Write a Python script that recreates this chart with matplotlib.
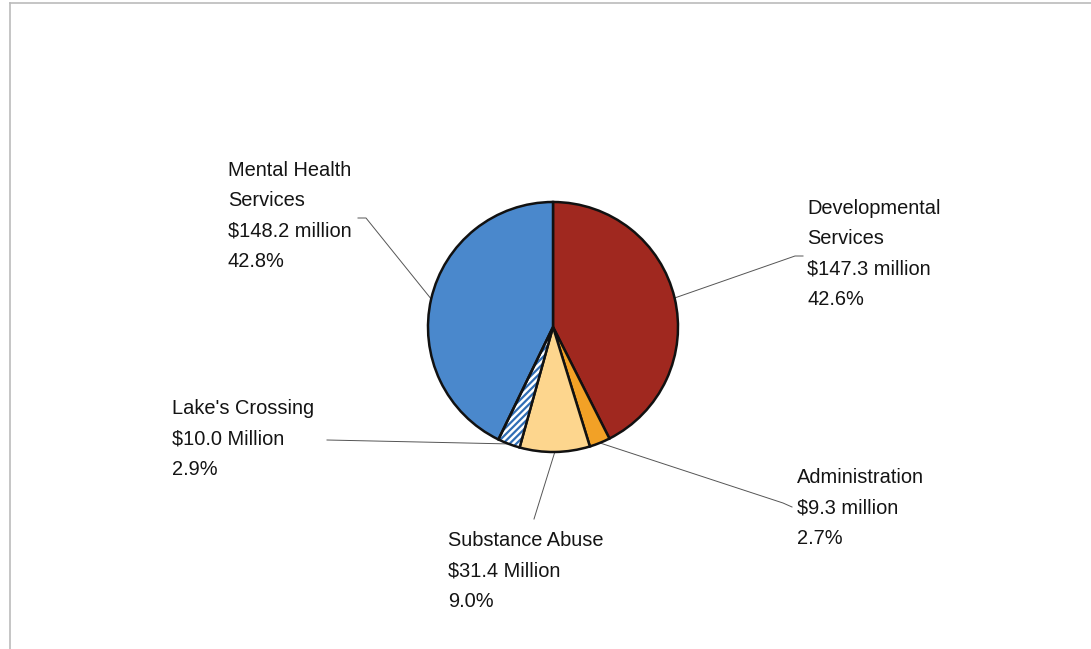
import numpy as np
import matplotlib
matplotlib.use('Agg')
import matplotlib.pyplot as plt
from matplotlib.patches import Wedge

plt.rcParams['font.family'] = ['Liberation Sans', 'DejaVu Sans']
plt.rcParams['hatch.linewidth'] = 1.6

# Budget split, clockwise from 12 o'clock
labels = ['Developmental\nServices', 'Administration', 'Substance Abuse',
          "Lake's Crossing", 'Mental Health\nServices']
amounts = [147.3, 9.3, 31.4, 10.0, 148.2]
amount_text = ['$147.3 million', '$9.3 million', '$31.4 Million',
               '$10.0 Million', '$148.2 million']
pct_text = ['42.6%', '2.7%', '9.0%', '2.9%', '42.8%']
colors = ['#A0281F', '#F2A126', '#FDD68E', '#FFFFFF', '#4A88CC']

W, H = 1091, 649
fig = plt.figure(figsize=(W / 100, H / 100), dpi=100)
ax = fig.add_axes([0, 0, 1, 1])

cx, cy, r = 553, H - 327, 125
wedges, _ = ax.pie(amounts, colors=colors, startangle=90, counterclock=False,
                   center=(cx, cy), radius=r,
                   wedgeprops=dict(edgecolor='#111111', linewidth=1.8))

# hatched slice: blue stripes on white, then black outline on top
lake = wedges[3]
lake.set_edgecolor('#2F6DB5')
lake.set_hatch('/////')
lake.set_linewidth(0)
ax.add_patch(Wedge((cx, cy), r, lake.theta1, lake.theta2, fill=False,
                   edgecolor='#111111', linewidth=1.8, zorder=lake.get_zorder() + 1))

ax.set_xlim(0, W)
ax.set_ylim(0, H)
ax.set_aspect('equal')
ax.axis('off')

# label layout: text left x, text centre y, leader elbow points (screen px)
text_pos = [(807, 254), (797, 508), (448, 571), (172, 439), (228, 216)]
elbows = [[(795, 256), (803, 256)],
          [(783, 503), (792, 507)],
          [(534, 519)],
          [(327, 440)],
          [(366, 218), (358, 218)]]

for w, lab, amt, pct, (tx, ty), pts in zip(wedges, labels, amount_text,
                                            pct_text, text_pos, elbows):
    mid = np.deg2rad((w.theta1 + w.theta2) / 2)
    ax0 = cx + r * np.cos(mid)
    ay0 = cy + r * np.sin(mid)
    xs = [ax0] + [p[0] for p in pts]
    ys = [ay0] + [H - p[1] for p in pts]
    ax.plot(xs, ys, color='#555555', linewidth=0.7, zorder=0)
    ax.text(tx, H - ty, f'{lab}\n{amt}\n{pct}', ha='left', va='center',
            fontsize=14.4, linespacing=1.75, color='#141414')

# thin page frame (top and left edges only visible)
ax.plot([10, W], [H - 3, H - 3], color='#bbbbbb', linewidth=1.2)
ax.plot([10, 10], [H - 3, 0], color='#bbbbbb', linewidth=1.2)

fig.savefig('out.png', dpi=100)
